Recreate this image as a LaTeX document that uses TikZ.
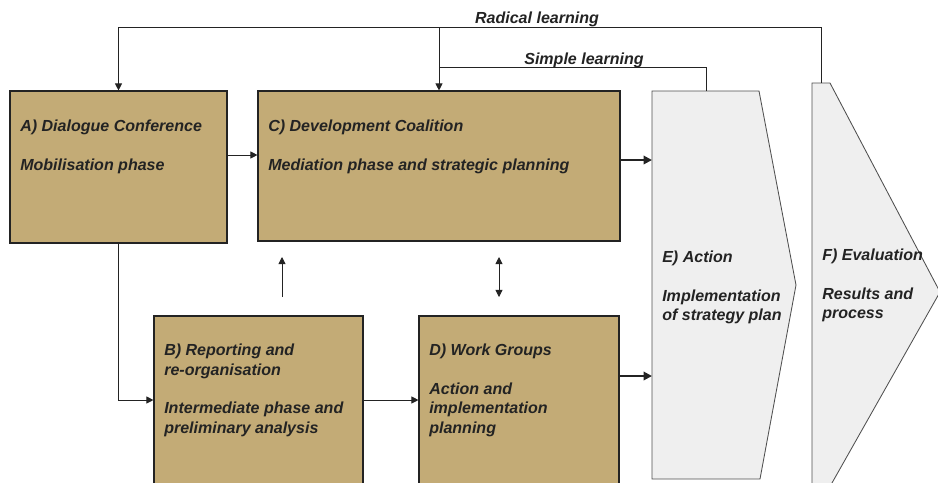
\documentclass[tikz,border=0pt]{standalone}
\usepackage{fontspec}
\setmainfont{Liberation Sans}
\usetikzlibrary{arrows.meta,fit}

\definecolor{tan}{RGB}{195,171,118}
\definecolor{pale}{RGB}{239,239,239}
\definecolor{ink}{RGB}{35,35,35}

\tikzset{
  box/.style={draw=ink, fill=tan, line width=0.8pt, inner sep=0pt},
  stage/.style={draw=ink!80, fill=pale, line width=0.6pt},
  lbl/.style={font=\fontsize{11.4}{13.9}\selectfont\bfseries\itshape, text=ink,
    align=left, anchor=north west, inner sep=0pt},
  line/.style={draw=ink, line width=0.6pt},
  tip/.style={Triangle[length=5pt,width=5pt]},
  flow/.style={line, -{Triangle[length=5pt,width=5pt]}},
  twoway/.style={line, {Triangle[length=5pt,width=5pt]}-{Triangle[length=5pt,width=5pt]}},
  bigflow/.style={draw=ink, line width=1.4pt, -{Triangle[length=6pt,width=6pt]}},
}

\begin{document}
\begin{tikzpicture}[x=0.025cm,y=-0.025cm]
    \useasboundingbox (0,0) rectangle (938,482);
    \clip (0,0) rectangle (938,482);

    % the four working boxes
    \node[box, fit={(10,91) (227,243)}] (A) {};
    \node[box, fit={(258,91) (620,241)}] (C) {};
    \node[box, fit={(154,316) (363,500)}] (B) {};
    \node[box, fit={(419,316) (619,500)}] (D) {};

    % action and evaluation stages
    \draw[stage] (652,91) -- (759,91) -- (796,285) -- (760,479) -- (652,479) -- cycle;
    \draw[stage] (812,83) -- (830,83) -- (940,292) -- (828,490) -- (812,490) -- cycle;
    \coordinate (E) at (652,285);
    \coordinate (Etop) at (706,91);
    \coordinate (Ftop) at (821,83);

    % texts
    \node[lbl] (A-text) at (20,120) {A) Dialogue Conference\\[13.2pt]Mobilisation phase};
    \node[lbl] (C-text) at (268,120) {C) Development Coalition\\[13.2pt]Mediation phase and strategic planning};
    \node[lbl] (B-text) at (164,344) {B) Reporting and\\re-organisation\\[13.2pt]Intermediate phase and\\preliminary analysis};
    \node[lbl] (D-text) at (429,344) {D) Work Groups\\[13.2pt]Action and\\implementation\\planning};
    \node[lbl] (E-text) at (662,251) {E) Action\\[13.2pt]Implementation\\of strategy plan};
    \node[lbl] (F-text) at (822,249) {F) Evaluation\\[13.2pt]Results and\\process};
    \node[lbl, anchor=base] (radical) at (537,23) {Radical learning};
    \node[lbl, anchor=base] (simple) at (584,64) {Simple learning};

    % feedback loops
    \draw[flow] (Ftop) -- (821,27) -| (A.north);
    \draw[flow] (C.north |- 0,27) -- (C.north);
    \draw[line] (Etop) |- (C.north |- 0,67);

    % forward flow
    \draw[flow] (A.east |- 0,155) -- (C.west |- 0,155);
    \draw[flow] (A.south) |- (B.west |- 0,400);
    \draw[flow] (B.east |- 0,400) -- (D.west |- 0,400);
    \draw[bigflow] (C.east |- 0,160) -- (E |- 0,160);
    \draw[bigflow] (D.east |- 0,376) -- (E |- 0,376);

    % links between the lower and upper boxes
    \coordinate (up1) at (282,297);
    \coordinate (up2) at (282,257);
    \coordinate (tw1) at (499,297);
    \coordinate (tw2) at (499,257);
    \draw[flow] (up1) -- (up2);
    \draw[twoway] (tw1) -- (tw2);
\end{tikzpicture}
\end{document}
